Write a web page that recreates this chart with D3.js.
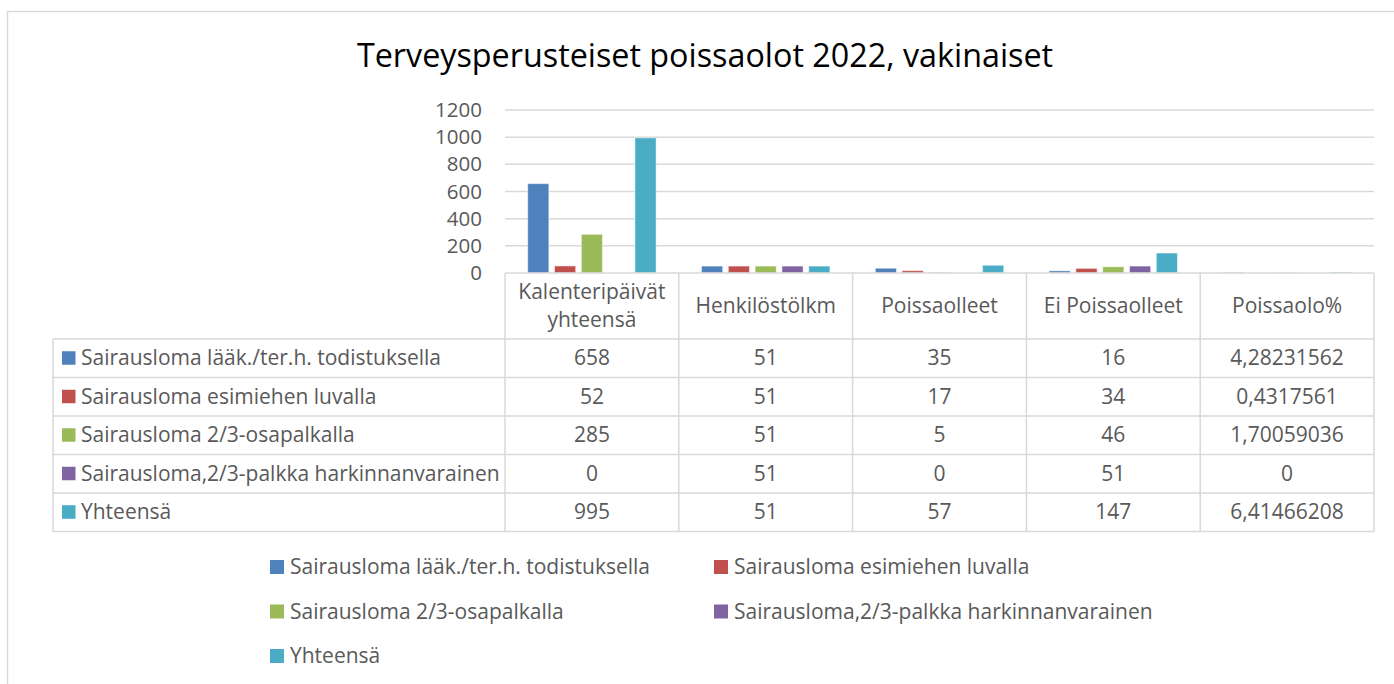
<!DOCTYPE html>
<html>
<head>
<meta charset="utf-8">
<script src="https://cdn.jsdelivr.net/npm/d3@7"></script>
<style>
  body { margin: 0; background: #fff; }
  svg text { font-family: "Open Sans", sans-serif; }
</style>
</head>
<body>
<div id="chart_div"></div>
<script>
// data
var categories = ['Kalenteripäivät yhteensä', 'Henkilöstölkm', 'Poissaolleet', 'Ei Poissaolleet', 'Poissaolo%'];
var series_names = [
    'Sairausloma lääk./ter.h. todistuksella',
    'Sairausloma esimiehen luvalla',
    'Sairausloma 2/3-osapalkalla',
    'Sairausloma,2/3-palkka harkinnanvarainen',
    'Yhteensä'
];
var series_colors = ['#4f81bd', '#c0504d', '#9bbb59', '#8064a2', '#4bacc6'];
var lakari_values = [658, 51, 35, 16, 4.28231562];
var esimies_values = [52, 51, 17, 34, 0.4317561];
var osapalkka_values = [285, 51, 5, 46, 1.70059036];
var harkinta_values = [0, 51, 0, 51, 0];
var yhteensa_values = [995, 51, 57, 147, 6.41466208];
var y_ticks = [0, 200, 400, 600, 800, 1000, 1200];

var series_values = [lakari_values, esimies_values, osapalkka_values, harkinta_values, yhteensa_values];

function chart() {
    var width = 1394;
    var height = 684;

    var plot = { left: 505, right: 1374, top: 110, bottom: 273 };
    var header_height = 66;
    var row_height = 38.5;
    var row_label_left = 53;
    var grid_color = '#d9d9d9';
    var text_color = '#595959';
    var font_size = '21px';

    var svg = d3.select('#chart_div')
        .append('svg')
        .attr('width', width)
        .attr('height', height);

    // chart frame
    svg.append('rect')
        .attr('x', 7.5)
        .attr('y', 11.5)
        .attr('width', 1420)
        .attr('height', 700)
        .attr('fill', 'none')
        .attr('stroke', grid_color)
        .attr('stroke-width', 1.5);

    svg.append('text')
        .attr('x', 705)
        .attr('y', 67)
        .attr('text-anchor', 'middle')
        .style('font-size', '32.3px')
        .style('fill', '#000')
        .text('Terveysperusteiset poissaolot 2022, vakinaiset');

    var x0 = d3.scaleBand()
        .domain(categories)
        .range([plot.left, plot.right])
        .padding(0);

    var x1 = d3.scaleBand()
        .domain(series_names)
        .range([22.7, 151.1])
        .paddingInner(0.21);

    var y = d3.scaleLinear()
        .domain([0, 1200])
        .range([plot.bottom, plot.top]);

    // gridlines
    svg.append('g')
        .selectAll('line')
        .data(y_ticks.filter(function(d) { return d > 0; }))
        .enter()
        .append('line')
        .attr('x1', plot.left)
        .attr('x2', plot.right)
        .attr('y1', function(d) { return y(d); })
        .attr('y2', function(d) { return y(d); })
        .attr('stroke', grid_color)
        .attr('stroke-width', 1.5);

    var y_axis = svg.append('g')
        .attr('transform', `translate(${plot.left - 23}, 0)`)
        .call(d3.axisLeft(y).tickValues(y_ticks).tickFormat(d3.format('d')).tickSize(0).tickPadding(0));
    y_axis.select('.domain').remove();
    y_axis.selectAll('text')
        .style('font-family', '"Open Sans", sans-serif')
        .style('font-size', '20.5px')
        .style('fill', text_color);

    // bars
    var bar_data = [];
    series_names.forEach(function(s, si) {
        categories.forEach(function(c, ci) {
            bar_data.push({ series: s, category: c, value: series_values[si][ci], color: series_colors[si] });
        });
    });

    svg.append('g')
        .selectAll('rect')
        .data(bar_data)
        .enter()
        .append('rect')
        .attr('x', function(d) { return x0(d.category) + x1(d.series); })
        .attr('y', function(d) { return y(d.value); })
        .attr('width', x1.bandwidth())
        .attr('height', function(d) { return y(0) - y(d.value); })
        .attr('fill', function(d) { return d.color; })
        .attr('stroke', '#ffffff')
        .attr('stroke-opacity', 0.5)
        .attr('stroke-width', 1);

    // data table
    var table = svg.append('g');
    var table_top = plot.bottom;
    var rows_top = table_top + header_height;
    var table_bottom = rows_top + series_names.length * row_height;

    var lines = [];
    // header top and column lines
    lines.push([plot.left, table_top, plot.right, table_top]);
    categories.forEach(function(c) {
        lines.push([x0(c), table_top, x0(c), table_bottom]);
    });
    lines.push([plot.right, table_top, plot.right, table_bottom]);
    lines.push([row_label_left, rows_top, row_label_left, table_bottom]);
    d3.range(series_names.length + 1).forEach(function(i) {
        lines.push([row_label_left, rows_top + i * row_height, plot.right, rows_top + i * row_height]);
    });

    table.selectAll('line')
        .data(lines)
        .enter()
        .append('line')
        .attr('x1', function(d) { return d[0]; })
        .attr('y1', function(d) { return d[1]; })
        .attr('x2', function(d) { return d[2]; })
        .attr('y2', function(d) { return d[3]; })
        .attr('stroke', grid_color)
        .attr('stroke-width', 1.5);

    // header labels, wrapped to column width
    var headers = table.selectAll('.header')
        .data(categories)
        .enter()
        .append('text')
        .attr('class', 'header')
        .attr('text-anchor', 'middle')
        .style('font-size', font_size)
        .style('fill', text_color)
        .attr('x', function(d) { return x0(d) + x0.bandwidth() / 2; });

    headers.each(function(d) {
        var el = d3.select(this);
        var words = d.split(' ');
        var wrapped = [];
        var line = [];
        words.forEach(function(w) {
            line.push(w);
            el.text(line.join(' '));
            if (el.node().getComputedTextLength() > x0.bandwidth() - 16 && line.length > 1) {
                line.pop();
                wrapped.push(line.join(' '));
                line = [w];
            }
        });
        wrapped.push(line.join(' '));
        el.text(null);
        var line_h = 28;
        var first = table_top + header_height / 2 + 7 - (wrapped.length - 1) * line_h / 2;
        wrapped.forEach(function(t, i) {
            el.append('tspan')
                .attr('x', x0(d) + x0.bandwidth() / 2)
                .attr('y', first + i * line_h)
                .text(t);
        });
    });

    // row labels with keys
    var rows = table.selectAll('.row')
        .data(series_names)
        .enter()
        .append('g')
        .attr('class', 'row')
        .attr('transform', function(d, i) { return `translate(0, ${rows_top + i * row_height + row_height / 2})`; });

    rows.append('rect')
        .attr('x', 62)
        .attr('y', -7)
        .attr('width', 13.5)
        .attr('height', 13.5)
        .attr('fill', function(d, i) { return series_colors[i]; });

    rows.append('text')
        .attr('x', 81)
        .attr('y', 7)
        .style('font-size', font_size)
        .style('fill', text_color)
        .text(function(d) { return d; });

    rows.selectAll('.cell')
        .data(function(d, i) { return series_values[i]; })
        .enter()
        .append('text')
        .attr('class', 'cell')
        .attr('text-anchor', 'middle')
        .attr('x', function(d, i) { return x0(categories[i]) + x0.bandwidth() / 2; })
        .attr('y', 7)
        .style('font-size', font_size)
        .style('fill', text_color)
        .text(function(d) { return String(d).replace('.', ','); });

    // legend
    var legend_x = [270, 714];
    var legend_y = [567, 611.5, 656];
    var legend = svg.append('g')
        .selectAll('g')
        .data(series_names)
        .enter()
        .append('g')
        .attr('transform', function(d, i) { return `translate(${legend_x[i % 2]}, ${legend_y[Math.floor(i / 2)]})`; });

    legend.append('rect')
        .attr('x', 0)
        .attr('y', -7)
        .attr('width', 14)
        .attr('height', 14)
        .attr('fill', function(d, i) { return series_colors[i]; });

    legend.append('text')
        .attr('x', 20)
        .attr('y', 7)
        .style('font-size', font_size)
        .style('fill', text_color)
        .text(function(d) { return d; });
}

chart();
</script>
</body>
</html>
